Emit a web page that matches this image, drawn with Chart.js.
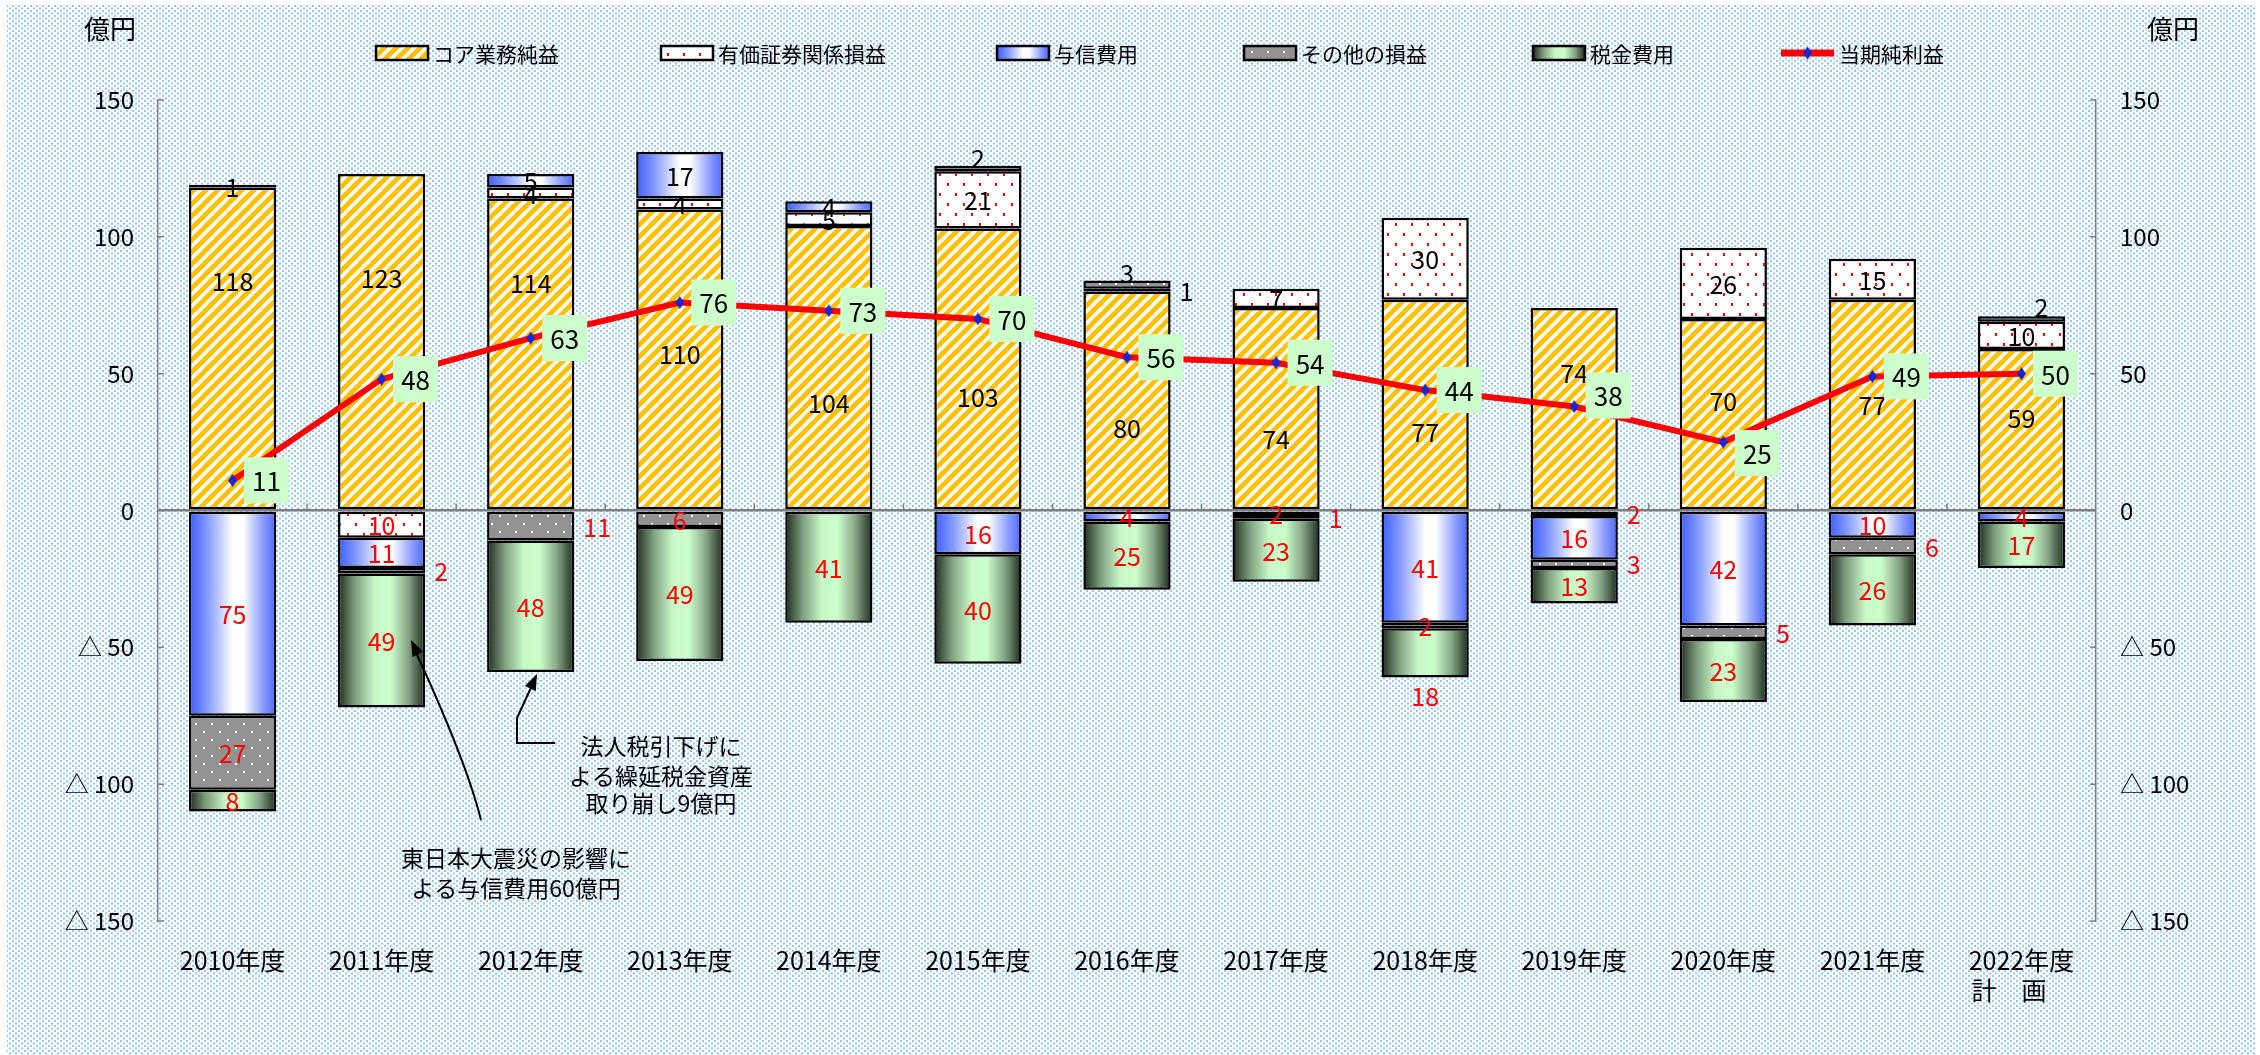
<!DOCTYPE html>
<html>
<head>
<meta charset="utf-8">
<script src="https://cdn.jsdelivr.net/npm/chart.js@4.4.0/dist/chart.umd.min.js"></script>
<style>
  html, body { margin: 0; padding: 0; background: #fff; }
  #wrap { width: 2260px; height: 1055px; }
</style>
</head>
<body>
<div id="wrap"><canvas id="c" width="2260" height="1055"></canvas></div>
<script>
/* data (億円) */
const years = ['2010年度', '2011年度', '2012年度', '2013年度', '2014年度', '2015年度', '2016年度',
  '2017年度', '2018年度', '2019年度', '2020年度', '2021年度', ['2022年度', '計　画　']];
const core = [118, 123, 114, 110, 104, 103, 80, 74, 77, 74, 70, 77, 59];
const securities = [1, -10, 4, 4, 5, 21, 1, 7, 30, -2, 26, 15, 10];
const credit = [-75, -11, 5, 17, 4, -16, -4, -2, -41, -16, -42, -10, -4];
const other = [-27, -2, -11, -6, null, 2, 3, -1, -2, -3, -5, -6, 2];
const tax = [-8, -49, -48, -49, -41, -40, -25, -23, -18, -13, -23, -26, -17];
const netIncome = [11, 48, 63, 76, 73, 70, 56, 54, 44, 38, 25, 49, 50];
const yTicks = [150, 100, 50, 0, -50, -100, -150];
const seriesNames = ['コア業務純益', '有価証券関係損益', '与信費用', 'その他の損益', '税金費用', '当期純利益'];

/* label placement (style only) */
const coreLabelAt = [0.71, 0.69, 0.73, 0.52, 0.375, 0.40, 0.375, 0.35, 0.37, 0.68, 0.57, 0.5, 0.57];
const secPlace = ['c', 'c', 'c', 'c', 'c', 'c', 'r', 'c', 'c', 'r', 'c', 'c', 'c'];
const creditPlace = ['c', 'c', 'c', 'c', 'c', 'c', 'c', 'c', 'c', 'c', 'c', 'c', 'c'];
const otherPlace = ['c', 'r', 'r', 'c', 'c', 't', 't', 'r', 'c', 'r', 'r', 'r', 'tr'];
const taxPlace = ['c', 'c', 'c', 'c', 'c', 'c', 'c', 'c', 'b', 'c', 'c', 'c', 'c'];
const netLabelDy = [0, 0, 0, 0, 0, 0, 0, 0, 0, -11, 11, 0, 0];

const FONT = '"Noto Sans CJK JP", "Noto Sans", sans-serif';
const CAT_PCT = 0.585;

const canvas = document.getElementById('c');
const ctx2d = canvas.getContext('2d');

function tile(w, h, draw) {
  const t = document.createElement('canvas');
  t.width = w; t.height = h;
  draw(t.getContext('2d'));
  return t;
}

const bgPattern = ctx2d.createPattern(tile(6, 5, g => {
  g.fillStyle = '#fff'; g.fillRect(0, 0, 6, 5);
  g.fillStyle = '#94c6f8'; g.fillRect(0, 0, 2, 2); g.fillRect(3, 2.5, 2, 2);
}), 'repeat');

const stripePattern = ctx2d.createPattern(tile(12, 12, g => {
  g.fillStyle = '#fff'; g.fillRect(0, 0, 12, 12);
  g.strokeStyle = '#ffc000'; g.lineWidth = 4.8;
  g.beginPath();
  for (let k = -1; k <= 1; k++) { g.moveTo(k * 12 - 1, 13); g.lineTo(k * 12 + 13, -1); }
  g.stroke();
}), 'repeat');

const dotPattern = ctx2d.createPattern(tile(16, 20, g => {
  g.fillStyle = '#fff'; g.fillRect(0, 0, 16, 20);
  g.fillStyle = '#ff0000'; g.fillRect(3, 3, 2, 3); g.fillRect(11, 13, 2, 3);
}), 'repeat');

const grayPattern = ctx2d.createPattern(tile(16, 16, g => {
  g.fillStyle = '#929292'; g.fillRect(0, 0, 16, 16);
  g.fillStyle = '#fff'; g.fillRect(3, 3, 2, 2); g.fillRect(11, 11, 2, 2);
}), 'repeat');

const creditStops = [[0, '#3d5cff'], [0.2, '#8096ff'], [0.5, '#ffffff'], [0.62, '#ffffff'], [0.85, '#8a9cff'], [1, '#4a66ff']];
const taxStops = [[0, '#1c2a1c'], [0.2, '#7fa07f'], [0.42, '#c8f8c8'], [0.6, '#ccffcc'], [0.8, '#88a888'], [1, '#1c2a1c']];

function hGrad(c, x0, x1, stops) {
  const g = c.createLinearGradient(x0, 0, x1, 0);
  stops.forEach(s => g.addColorStop(s[0], s[1]));
  return g;
}

function barGradient(stops) {
  return ctx => {
    const chart = ctx.chart;
    const xs = chart.scales.x;
    if (!xs || ctx.dataIndex === undefined || !chart.chartArea) return stops[3][1];
    const cx = xs.getPixelForValue(ctx.dataIndex);
    const w = xs.width / years.length * CAT_PCT;
    return hGrad(chart.ctx, cx - w / 2, cx + w / 2, stops);
  };
}

const diamond = tile(9, 13, g => {
  g.fillStyle = '#1428d8';
  g.beginPath(); g.moveTo(4.5, 0); g.lineTo(9, 6.5); g.lineTo(4.5, 13); g.lineTo(0, 6.5); g.closePath(); g.fill();
});

function arrowHead(c, x0, y0, x1, y1) {
  const a = Math.atan2(y1 - y0, x1 - x0);
  const L = 16, W = 6;
  c.beginPath();
  c.moveTo(x1, y1);
  c.lineTo(x1 - L * Math.cos(a) + W * Math.sin(a), y1 - L * Math.sin(a) - W * Math.cos(a));
  c.lineTo(x1 - L * Math.cos(a) - W * Math.sin(a), y1 - L * Math.sin(a) + W * Math.cos(a));
  c.closePath();
  c.fill();
}

const extras = {
  id: 'extras',
  beforeDraw(chart) {
    const c = chart.ctx;
    c.save();
    c.fillStyle = '#fff';
    c.fillRect(0, 0, chart.width, chart.height);
    c.fillStyle = bgPattern;
    c.fillRect(7, 5, chart.width - 11, chart.height - 5);
    c.restore();
  },
  afterDatasetsDraw(chart) {
    const c = chart.ctx;
    const fills = [null, secPlace, creditPlace, otherPlace, taxPlace];
    const bars = [core, securities, credit, other, tax];
    c.save();
    c.font = '25px ' + FONT;
    c.textBaseline = 'middle';
    bars.forEach((arr, i) => {
      const meta = chart.getDatasetMeta(i);
      arr.forEach((v, j) => {
        if (v == null) return;
        const el = meta.data[j];
        const top = Math.min(el.y, el.base), bot = Math.max(el.y, el.base);
        let x = el.x, y = (top + bot) / 2, align = 'center';
        if (i === 0) {
          y = bot - (bot - top) * coreLabelAt[j];
        } else {
          const p = fills[i][j];
          if (p === 'r') { x = el.x + el.width / 2 + 9; align = 'left'; }
          else if (p === 't') y = top - 8;
          else if (p === 'tr') { y = top - 10; x = el.x + 20; }
          else if (p === 'b') y = bot + 18;
        }
        c.fillStyle = v < 0 ? '#ff0000' : '#000';
        c.textAlign = align;
        c.fillText(String(Math.abs(v)), x, y + 1);
      });
    });
    // net income label boxes
    const lm = chart.getDatasetMeta(5);
    c.font = '26px ' + FONT;
    c.textAlign = 'center';
    netIncome.forEach((v, j) => {
      const pt = lm.data[j];
      const bx = pt.x + 34, by = pt.y + netLabelDy[j];
      c.fillStyle = '#ccffcc';
      c.fillRect(bx - 22.5, by - 23, 45, 46);
      c.fillStyle = '#000';
      c.fillText(String(v), bx, by + 1);
    });
    c.restore();
  },
  afterDraw(chart) {
    const c = chart.ctx;
    const a = chart.chartArea;
    const y = chart.scales.y;
    c.save();
    // inward tick marks
    c.strokeStyle = '#808080'; c.lineWidth = 1.5;
    c.beginPath();
    yTicks.forEach(v => {
      const py = y.getPixelForValue(v);
      c.moveTo(a.left, py); c.lineTo(a.left + 6, py);
      c.moveTo(a.right, py); c.lineTo(a.right - 6, py);
    });
    const zy = y.getPixelForValue(0);
    const cw = (a.right - a.left) / years.length;
    for (let k = 1; k < years.length; k++) {
      c.moveTo(a.left + k * cw, zy); c.lineTo(a.left + k * cw, zy - 7);
    }
    c.stroke();

    // unit labels
    c.fillStyle = '#000';
    c.font = '26px ' + FONT;
    c.textAlign = 'center'; c.textBaseline = 'middle';
    c.fillText('億円', 110, 29);
    c.fillText('億円', 2173, 29);

    // legend
    const lx = [376, 661, 997, 1244, 1533, 1781];
    const ly = 53;
    c.font = '21px ' + FONT;
    c.textAlign = 'left';
    const boxFill = [stripePattern, dotPattern, null, grayPattern, null];
    for (let i = 0; i < 5; i++) {
      const x0 = lx[i];
      if (i === 2) c.fillStyle = hGrad(c, x0, x0 + 52, creditStops);
      else if (i === 4) c.fillStyle = hGrad(c, x0, x0 + 52, taxStops);
      else c.fillStyle = boxFill[i];
      c.fillRect(x0, ly - 7, 52, 14);
      c.strokeStyle = '#000'; c.lineWidth = 2.5;
      c.strokeRect(x0, ly - 7, 52, 14);
      c.fillStyle = '#000';
      c.fillText(seriesNames[i], x0 + 57, ly + 1);
    }
    c.strokeStyle = '#ff0000'; c.lineWidth = 7;
    c.beginPath(); c.moveTo(lx[5], ly); c.lineTo(lx[5] + 53, ly); c.stroke();
    c.drawImage(diamond, lx[5] + 22, ly - 6.5);
    c.fillStyle = '#000';
    c.fillText(seriesNames[5], lx[5] + 58, ly + 1);

    // annotations
    c.font = '23px ' + FONT;
    c.textAlign = 'center';
    c.fillText('法人税引下げに', 661, 746);
    c.fillText('よる繰延税金資産', 661, 776);
    c.fillText('取り崩し9億円', 661, 803);
    c.fillText('東日本大震災の影響に', 516, 858);
    c.fillText('よる与信費用60億円', 516, 888);

    c.strokeStyle = '#000'; c.fillStyle = '#000'; c.lineWidth = 2;
    c.beginPath();
    c.moveTo(555, 743); c.lineTo(517, 743); c.lineTo(517, 718); c.lineTo(535, 679);
    c.stroke();
    arrowHead(c, 517, 718, 537, 674);
    c.beginPath();
    c.moveTo(481, 820); c.quadraticCurveTo(466, 760, 413, 646);
    c.stroke();
    arrowHead(c, 440, 700, 411, 640);
    c.restore();
  }
};

function barSet(label, data, bg) {
  return {
    type: 'bar', label, data,
    backgroundColor: bg,
    borderColor: '#000', borderWidth: 2.5, borderSkipped: false,
    categoryPercentage: CAT_PCT, barPercentage: 1,
    yAxisID: 'y'
  };
}

const tickLabel = v => v < 0 ? '△ ' + (-v) : String(v);

new Chart(canvas, {
  data: {
    labels: years,
    datasets: [
      barSet(seriesNames[0], core, stripePattern),
      barSet(seriesNames[1], securities, dotPattern),
      barSet(seriesNames[2], credit, barGradient(creditStops)),
      barSet(seriesNames[3], other, grayPattern),
      barSet(seriesNames[4], tax, barGradient(taxStops)),
      {
        type: 'line', label: seriesNames[5], data: netIncome,
        borderColor: '#ff0000', borderWidth: 6,
        pointStyle: diamond, pointRadius: 6,
        tension: 0, yAxisID: 'y2', order: -1
      }
    ]
  },
  options: {
    responsive: false,
    devicePixelRatio: 1,
    animation: false,
    layout: { padding: { top: 100, left: 0, right: 0, bottom: 0 } },
    plugins: { legend: { display: false }, tooltip: { enabled: false } },
    scales: {
      x: {
        stacked: true,
        grid: { display: false, drawTicks: false },
        border: { display: false },
        ticks: { color: '#000', font: { family: FONT, size: 25 }, padding: 24, maxRotation: 0, autoSkip: false },
        afterFit: s => { s.height = 134; }
      },
      y: {
        stacked: true, min: -150, max: 150,
        afterBuildTicks: s => { s.ticks = yTicks.map(v => ({ value: v })); },
        ticks: { color: '#000', font: { family: FONT, size: 24 }, padding: 24, callback: tickLabel },
        grid: {
          drawTicks: false,
          color: c => (c.tick && c.tick.value === 0) ? '#7f7f7f' : 'rgba(0,0,0,0)',
          lineWidth: 2.5
        },
        border: { display: true, color: '#808080', width: 1.5 },
        afterFit: s => { s.width = 158; }
      },
      y2: {
        position: 'right', min: -150, max: 150,
        afterBuildTicks: s => { s.ticks = yTicks.map(v => ({ value: v })); },
        ticks: { color: '#000', font: { family: FONT, size: 24 }, padding: 24, callback: tickLabel },
        grid: { display: false, drawTicks: false },
        border: { display: true, color: '#808080', width: 1.5 },
        afterFit: s => { s.width = 164; }
      }
    }
  },
  plugins: [extras]
});
</script>
</body>
</html>
